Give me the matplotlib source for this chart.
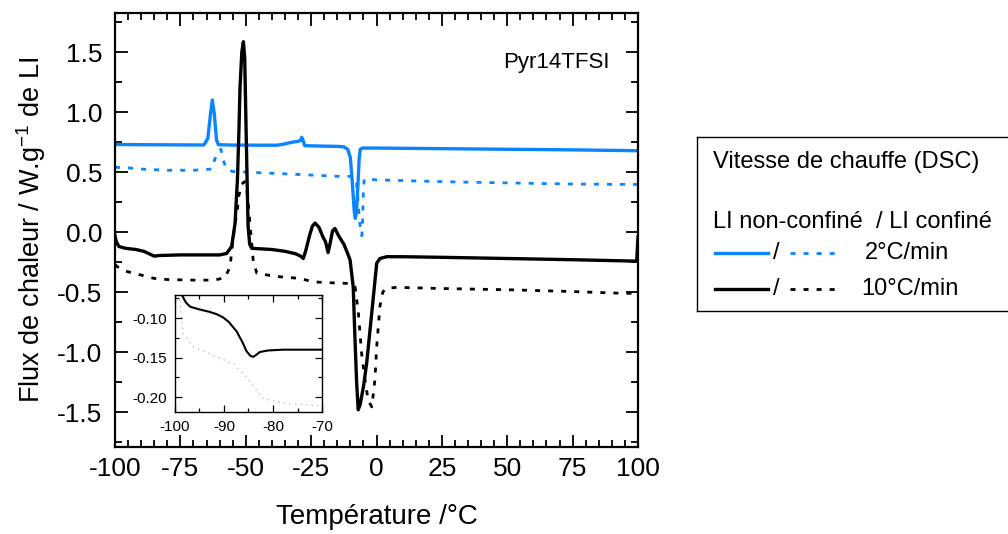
import numpy as np
import matplotlib
matplotlib.use('Agg')
import matplotlib.pyplot as plt
from matplotlib.ticker import MultipleLocator, FormatStrFormatter
from matplotlib.lines import Line2D

plt.rcParams['font.family'] = ['Liberation Sans', 'DejaVu Sans']
plt.rcParams['mathtext.fontset'] = 'custom'
plt.rcParams['mathtext.rm'] = 'Liberation Sans'
plt.rcParams['mathtext.it'] = 'Liberation Sans:italic'
plt.rcParams['axes.unicode_minus'] = False

BLUE = '#0a84ff'

# 2 C/min, LI non-confine (solid blue)
t_2_free = [-100, -90, -80, -70, -66, -64.5, -63.5, -62.8, -62.0, -61.2, -60.5, -55, -45, -38,
            -35, -32, -30, -29, -28.6, -28.0, -27.5, -20, -15, -12.5, -11, -10, -9.2, -8.5,
            -8.1, -7.6, -7.1, -6.6, -6.2, -5.5, 0, 25, 50, 75, 99.5]
q_2_free = [0.73, 0.728, 0.727, 0.726, 0.726, 0.78, 0.98, 1.10, 0.98, 0.77, 0.728, 0.725, 0.724, 0.724,
            0.735, 0.75, 0.755, 0.765, 0.79, 0.76, 0.72, 0.716, 0.714, 0.71, 0.69, 0.62, 0.40, 0.17,
            0.115, 0.18, 0.40, 0.62, 0.69, 0.70, 0.70, 0.695, 0.69, 0.685, 0.678]

# 2 C/min, LI confine (dotted blue)
t_2_conf = [-100, -95, -90, -80, -70, -63, -61.8, -60.5, -59.5, -58.6, -57.5, -56.7, -55, -45, -35,
            -25, -15, -11, -9, -7.8, -7.2, -6.6, -6.0, -5.6, -5.3, -5.0, -4.7, -3, 0, 25, 50, 75, 100]
q_2_conf = [0.54, 0.535, 0.525, 0.515, 0.515, 0.525, 0.61, 0.66, 0.69, 0.60, 0.53, 0.517, 0.505, 0.495, 0.485,
            0.475, 0.465, 0.465, 0.46, 0.44, 0.30, 0.12, 0.0, -0.03, 0.10, 0.35, 0.44, 0.44, 0.435, 0.42, 0.41, 0.40, 0.397]

# 10 C/min, LI non-confine (solid black)
t_10_free = [-100, -99.5, -98.5, -96, -92, -89, -87, -85, -83, -75, -65, -60, -57.3, -55.4, -54.1,
             -53.2, -52.6, -52.2, -51.5, -50.9, -50.4, -50.0, -49.5, -49.1, -48.5, -47.7, -40, -35,
             -31, -29, -28, -27, -25.5, -24.5, -23.5, -22, -20.5, -19.5, -18.5, -17.8, -16.8, -15.9,
             -14.5, -12.5, -11, -10.1, -8.9, -8.3, -7.6, -7.0, -6.3, -5.0, -3.75, -2.5, -1.2, 0.07,
             1.3, 3.9, 10, 25, 50, 75, 99.5, 100]
q_10_free = [-0.03, -0.08, -0.12, -0.135, -0.145, -0.16, -0.18, -0.2, -0.195, -0.19, -0.19, -0.19, -0.178, -0.12, 0.07,
             0.43, 0.85, 1.20, 1.5, 1.586, 1.45, 1.0, 0.45, 0.05, -0.10, -0.135, -0.145, -0.16,
             -0.18, -0.2, -0.22, -0.15, -0.02, 0.05, 0.075, 0.04, -0.04, -0.08, -0.17, -0.10, 0.01, 0.03,
             -0.03, -0.10, -0.18, -0.233, -0.456, -0.85, -1.25, -1.48, -1.44, -1.29, -1.09, -0.82, -0.54, -0.26,
             -0.22, -0.205, -0.205, -0.21, -0.22, -0.23, -0.242, -0.04]

# 10 C/min, LI confine (dotted black)
t_10_conf = [-100, -99, -96, -90, -85, -80, -70, -62, -58, -56, -54.8, -54.1, -53.2, -52.8, -51.5,
             -50.5, -49.6, -49.0, -48.4, -47.1, -45.8, -40, -36.9, -29.3, -24.2, -20, -10.1, -8.2,
             -6.9, -5.7, -4.4, -3.2, -1.8, -0.6, 0.07, 1.3, 2.4, 3.5, 7.7, 25, 50, 75, 94, 100]
q_10_conf = [-0.27, -0.29, -0.325, -0.358, -0.386, -0.395, -0.40, -0.40, -0.38, -0.29, -0.04, 0.07, 0.18, 0.29, 0.40,
             0.42, 0.35, 0.225, 0.075, -0.25, -0.34, -0.365, -0.372, -0.386, -0.414, -0.42, -0.428, -0.456,
             -0.68, -1.01, -1.23, -1.40, -1.456, -1.23, -0.956, -0.62, -0.50, -0.47, -0.46, -0.47, -0.48, -0.495, -0.51, -0.51]

# inset: glass transition zone
t_in_free = [-98.6, -97.8, -96.9, -95, -93, -91.5, -90.2, -89.0, -87.4, -86.2, -85.4, -84.6, -84.0, -83.3, -82.7, -81, -77.9, -70]
q_in_free = [-0.0707, -0.08, -0.0856, -0.089, -0.092, -0.095, -0.099, -0.105, -0.117, -0.131, -0.142, -0.148, -0.149, -0.146, -0.143, -0.141, -0.140, -0.140]
t_in_conf = [-99.1, -98.3, -96.3, -91.5, -88.1, -85.4, -83.3, -82.0, -78.0, -71.2, -70]
q_in_conf = [-0.077, -0.1195, -0.1365, -0.149, -0.1577, -0.1746, -0.1916, -0.202, -0.2078, -0.2107, -0.211]

fig = plt.figure(figsize=(10.08, 5.34), dpi=100)
ax = fig.add_axes([115/1008, 1-447/534, 523/1008, 434/534])

dot = (0, (1.8, 2.9))
ax.plot(t_2_free, q_2_free, color=BLUE, lw=2.4)
ax.plot(t_2_conf, q_2_conf, color=BLUE, lw=2.0, ls=dot, dash_capstyle='butt')
ax.plot(t_10_free, q_10_free, color='black', lw=2.4)
ax.plot(t_10_conf, q_10_conf, color='black', lw=2.0, ls=dot, dash_capstyle='butt')

ax.set_xlim(-100, 100)
ax.set_ylim(-1.79, 1.825)
ax.xaxis.set_major_locator(MultipleLocator(25))
ax.xaxis.set_minor_locator(MultipleLocator(5))
ax.yaxis.set_major_locator(MultipleLocator(0.5))
ax.yaxis.set_minor_locator(MultipleLocator(0.25))
ax.yaxis.set_major_formatter(FormatStrFormatter('%.1f'))
ax.tick_params(which='both', direction='in', top=True, right=True, width=1.3, labelsize=19)
ax.tick_params(which='major', length=9)
ax.tick_params(which='minor', length=5)
ax.tick_params(axis='y', pad=9)
ax.tick_params(axis='x', pad=7)
for s in ax.spines.values():
    s.set_linewidth(1.6)

ax.set_xlabel('Température /°C', fontsize=20, labelpad=17)
ax.set_ylabel('Flux de chaleur / W.g$^{-1}$ de LI', fontsize=19.5, labelpad=7)
ax.text(0.945, 0.887, 'Pyr14TFSI', transform=ax.transAxes, ha='right', va='center', fontsize=16)

# inset
ins = fig.add_axes([175/1008, 1-412/534, 147/1008, 117/534])
ins.plot(t_in_free, q_in_free, color='black', lw=1.5)
ins.plot(t_in_conf, q_in_conf, color='#bdbdbd', lw=1.0, ls=(0, (1, 3)))
ins.set_xlim(-100, -70)
ins.set_ylim(-0.219, -0.0707)
ins.xaxis.set_major_locator(MultipleLocator(10))
ins.xaxis.set_minor_locator(MultipleLocator(5))
ins.yaxis.set_major_locator(MultipleLocator(0.05))
ins.yaxis.set_minor_locator(MultipleLocator(0.025))
ins.yaxis.set_major_formatter(FormatStrFormatter('%.2f'))
ins.tick_params(which='both', direction='in', top=True, right=True, labelsize=11, width=0.9)
ins.tick_params(which='major', length=5)
ins.tick_params(which='minor', length=3)
ins.tick_params(axis='x', pad=6)
ins.tick_params(axis='y', pad=6)
for s in ins.spines.values():
    s.set_linewidth(1.0)

# legend box
lax = fig.add_axes([697/1008, 1-311/534, 320/1008, 174/534])
lax.set_xlim(697, 1017)
lax.set_ylim(311, 137)
lax.set_xticks([])
lax.set_yticks([])
for s in lax.spines.values():
    s.set_linewidth(1.0)
fs = 17
lax.text(713, 162, 'Vitesse de chauffe (DSC)', fontsize=fs, va='center')
lax.text(713, 222, 'LI non-confiné  / LI confiné', fontsize=fs, va='center')
rows = [(253, BLUE, '2°C/min', 865), (289, 'black', '10°C/min', 861)]
for y, c, lab, xt in rows:
    lax.add_line(Line2D([715, 768], [y, y], color=c, lw=2.4))
    lax.text(773, y, '/', fontsize=fs, va='center')
    lax.add_line(Line2D([790, 838], [y, y], color=c, lw=2.0, ls=dot, dash_capstyle='butt'))
    lax.text(xt, y, lab, fontsize=fs, va='center')

plt.savefig('out.png', dpi=100)
